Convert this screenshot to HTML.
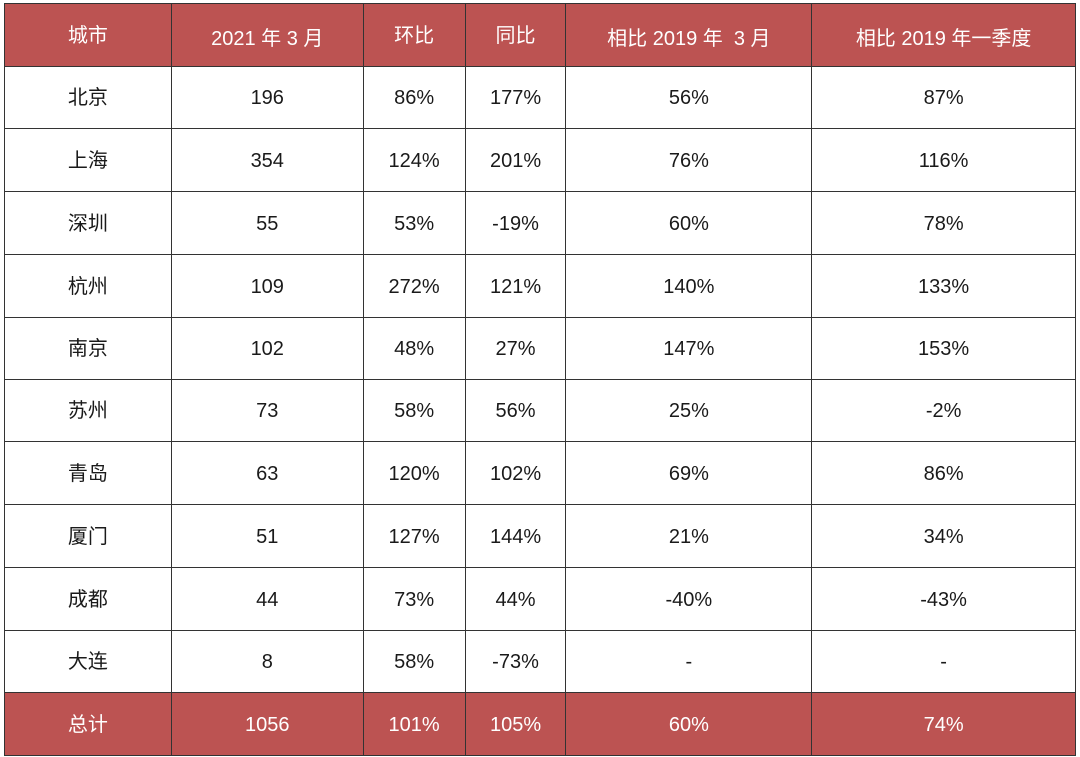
<!DOCTYPE html>
<html><head><meta charset="utf-8"><style>
body{margin:0;background:#fff;width:1080px;height:757px;overflow:hidden;position:relative;font-family:"Liberation Sans","Noto Sans CJK SC",sans-serif;font-size:20px;color:#1a1a1a}
.r{position:absolute;left:4px;width:1072px;display:flex;box-sizing:border-box;border-left:1.5px solid #333;border-bottom:1.5px solid #333}
.r div{display:flex;align-items:center;justify-content:center;border-right:1.5px solid #333;box-sizing:border-box;height:100%}
.r div:nth-child(1){width:167px}.r div:nth-child(2){width:192px}.r div:nth-child(3){width:102px}.r div:nth-child(4){width:101px}.r div:nth-child(5){width:246px}.r div:nth-child(6){width:264px}
.h{background:#bc5352;color:#fff;border-top:1.5px solid #333}
span{position:relative;top:1px}
.c span{top:-2px}
</style></head><body>
<div class="r h" style="top:3px;height:64px"><div class="c"><span>城市</span></div><div><span>2021 年 3 月</span></div><div class="c"><span>环比</span></div><div class="c"><span>同比</span></div><div><span>相比 2019 年 &nbsp;3 月</span></div><div><span>相比 2019 年一季度</span></div></div>
<div class="r" style="top:67px;height:62px"><div class="c"><span>北京</span></div><div><span>196</span></div><div><span>86%</span></div><div><span>177%</span></div><div><span>56%</span></div><div><span>87%</span></div></div>
<div class="r" style="top:129px;height:63px"><div class="c"><span>上海</span></div><div><span>354</span></div><div><span>124%</span></div><div><span>201%</span></div><div><span>76%</span></div><div><span>116%</span></div></div>
<div class="r" style="top:192px;height:63px"><div class="c"><span>深圳</span></div><div><span>55</span></div><div><span>53%</span></div><div><span>-19%</span></div><div><span>60%</span></div><div><span>78%</span></div></div>
<div class="r" style="top:255px;height:63px"><div class="c"><span>杭州</span></div><div><span>109</span></div><div><span>272%</span></div><div><span>121%</span></div><div><span>140%</span></div><div><span>133%</span></div></div>
<div class="r" style="top:318px;height:62px"><div class="c"><span>南京</span></div><div><span>102</span></div><div><span>48%</span></div><div><span>27%</span></div><div><span>147%</span></div><div><span>153%</span></div></div>
<div class="r" style="top:380px;height:62px"><div class="c"><span>苏州</span></div><div><span>73</span></div><div><span>58%</span></div><div><span>56%</span></div><div><span>25%</span></div><div><span>-2%</span></div></div>
<div class="r" style="top:442px;height:63px"><div class="c"><span>青岛</span></div><div><span>63</span></div><div><span>120%</span></div><div><span>102%</span></div><div><span>69%</span></div><div><span>86%</span></div></div>
<div class="r" style="top:505px;height:63px"><div class="c"><span>厦门</span></div><div><span>51</span></div><div><span>127%</span></div><div><span>144%</span></div><div><span>21%</span></div><div><span>34%</span></div></div>
<div class="r" style="top:568px;height:63px"><div class="c"><span>成都</span></div><div><span>44</span></div><div><span>73%</span></div><div><span>44%</span></div><div><span>-40%</span></div><div><span>-43%</span></div></div>
<div class="r" style="top:631px;height:62px"><div class="c"><span>大连</span></div><div><span>8</span></div><div><span>58%</span></div><div><span>-73%</span></div><div><span>-</span></div><div><span>-</span></div></div>
<div class="r h" style="top:693px;height:63px;border-top:none"><div class="c"><span>总计</span></div><div><span>1056</span></div><div><span>101%</span></div><div><span>105%</span></div><div><span>60%</span></div><div><span>74%</span></div></div>
</body></html>
